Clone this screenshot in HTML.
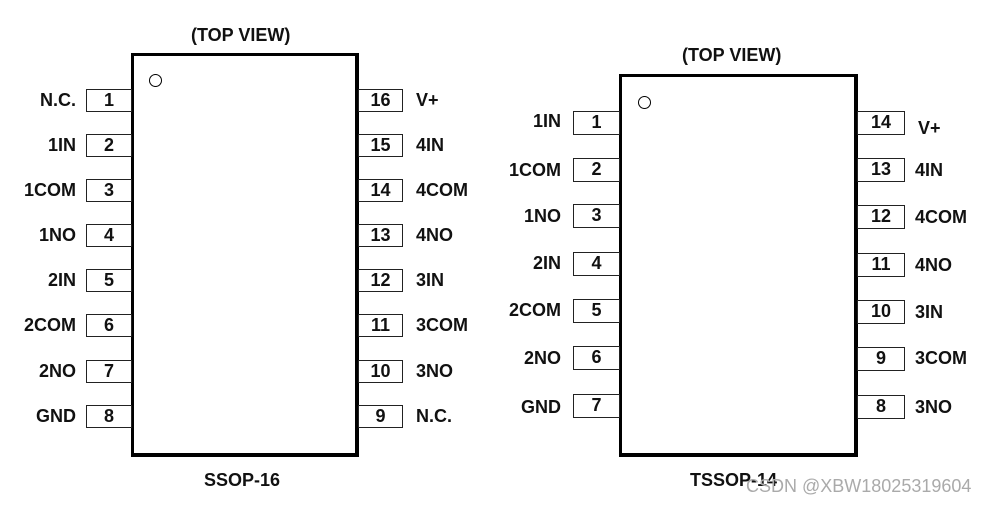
<!DOCTYPE html>
<html><head><style>
body{margin:0;width:1004px;height:505px;background:#fff;position:relative;overflow:hidden;font-family:"Liberation Sans",Arial,sans-serif;font-weight:bold;color:#111}
.a{position:absolute}
.body{position:absolute;border:3px solid #000;box-sizing:border-box;border-right-width:4px;border-bottom-width:4px}
.pin{position:absolute;border:1.5px solid #222;box-sizing:border-box;background:#fff;text-align:center;font-size:18px}
.l{position:absolute;font-size:18px;white-space:nowrap}
.r{text-align:right}
.dot{position:absolute;width:13px;height:13px;border:1.5px solid #000;border-radius:50%;box-sizing:border-box}
</style></head><body>
<div class="l" style="left:191px;top:25px">(TOP VIEW)</div>
<div class="body" style="left:131px;top:53px;width:228px;height:404px"></div>
<div class="dot" style="left:149px;top:74px"></div>

<div class="l" style="left:682px;top:45px">(TOP VIEW)</div>
<div class="body" style="left:619px;top:74px;width:239px;height:383px"></div>
<div class="dot" style="left:638px;top:96px"></div>

<div class="l" style="left:204px;top:470px">SSOP-16</div>
<div class="l" style="left:690px;top:470px">TSSOP-14</div>
<div class="a" style="left:746px;top:476px;font-size:18px;font-weight:normal;color:#aaa">CSDN @XBW18025319604</div>

<script>
function add(html){document.body.insertAdjacentHTML('beforeend',html)}
var L=[["N.C.",1],["1IN",2],["1COM",3],["1NO",4],["2IN",5],["2COM",6],["2NO",7],["GND",8]];
var R=[["V+",16],["4IN",15],["4COM",14],["4NO",13],["3IN",12],["3COM",11],["3NO",10],["N.C.",9]];
var yc=[100,145,190,235,280,325,371,416];
for(var i=0;i<8;i++){
 var y=yc[i];
 add('<div class="pin" style="left:86px;top:'+(y-11)+'px;width:46px;height:23px;line-height:20px">'+L[i][1]+'</div>');
 add('<div class="l r" style="right:'+(1004-76)+'px;top:'+(y-10)+'px">'+L[i][0]+'</div>');
 add('<div class="pin" style="left:358px;top:'+(y-11)+'px;width:45px;height:23px;line-height:20px">'+R[i][1]+'</div>');
 add('<div class="l" style="left:416px;top:'+(y-10)+'px">'+R[i][0]+'</div>');
}
var L2=[["1IN",1],["1COM",2],["1NO",3],["2IN",4],["2COM",5],["2NO",6],["GND",7]];
var R2=[["V+",14],["4IN",13],["4COM",12],["4NO",11],["3IN",10],["3COM",9],["3NO",8]];
var yl=[123,170,216,264,311,358,406];
var yr=[123,170,217,265,312,359,407];
var ll=[121,170,216,263,310,358,407];
var rl=[128,170,217,265,312,358,407];
for(var i=0;i<7;i++){
 add('<div class="pin" style="left:573px;top:'+(yl[i]-12)+'px;width:47px;height:24px;line-height:21px">'+L2[i][1]+'</div>');
 add('<div class="l r" style="right:'+(1004-561)+'px;top:'+(ll[i]-10)+'px">'+L2[i][0]+'</div>');
 add('<div class="pin" style="left:857px;top:'+(yr[i]-12)+'px;width:48px;height:24px;line-height:21px">'+R2[i][1]+'</div>');
 add('<div class="l" style="left:'+(i==0?918:915)+'px;top:'+(rl[i]-10)+'px">'+R2[i][0]+'</div>');
}
</script>
</body></html>
